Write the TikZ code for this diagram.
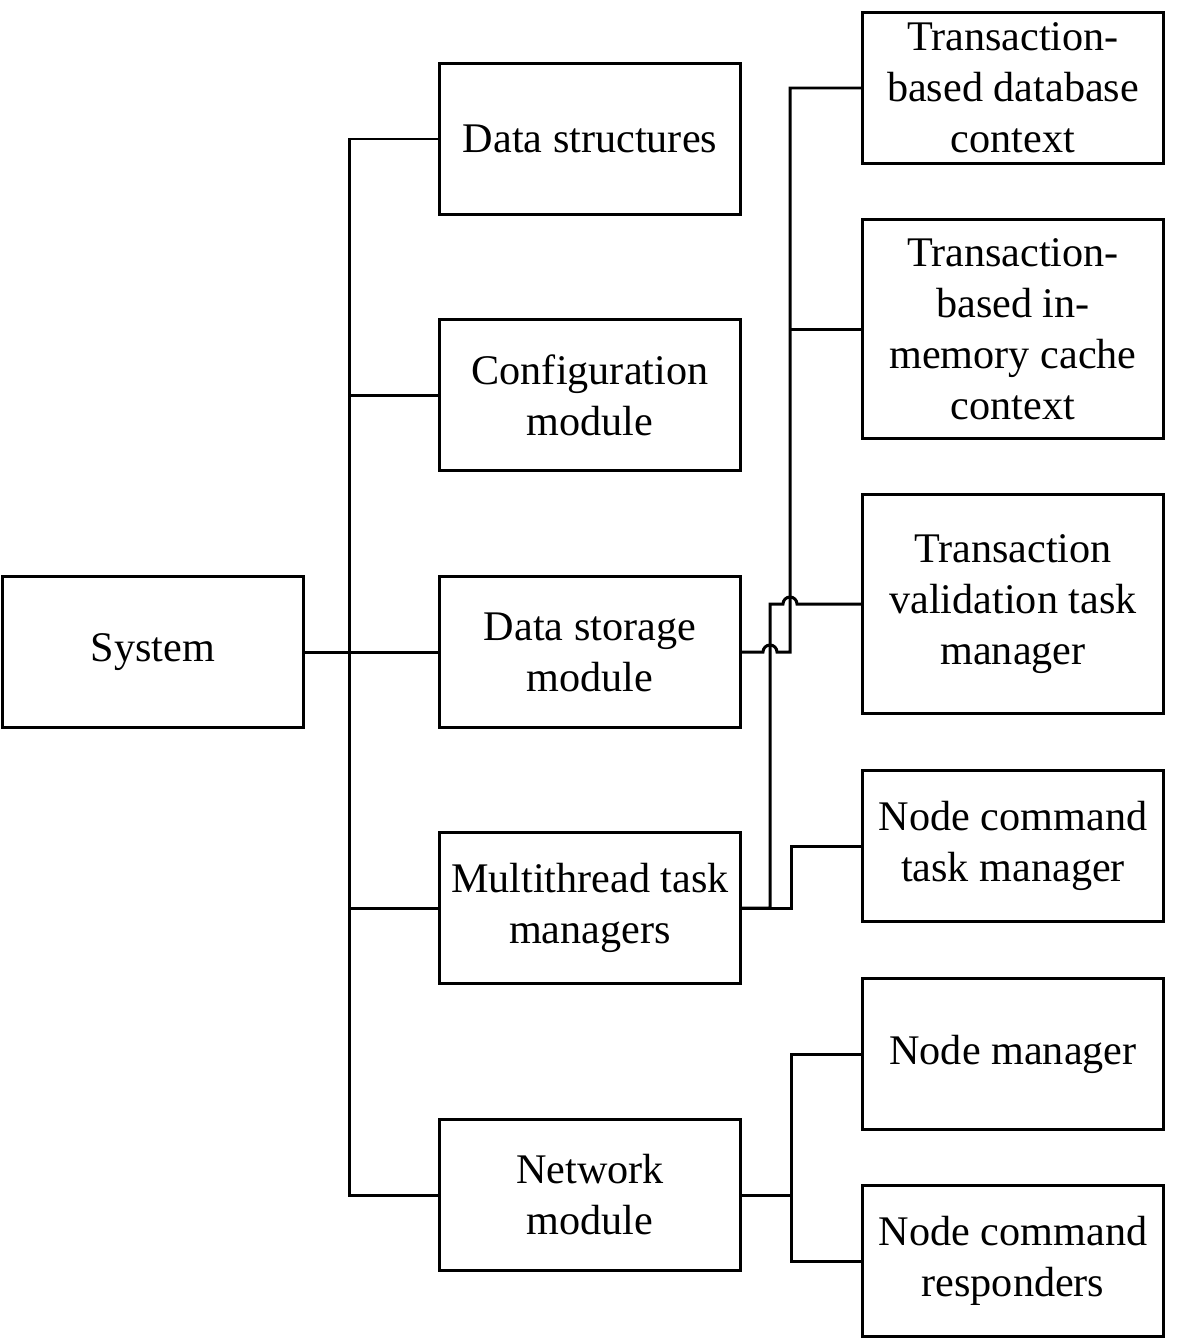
\documentclass[tikz,border=0pt]{standalone}
\usepackage{fontspec}
\setmainfont{Liberation Serif}
\usetikzlibrary{positioning}

\begin{document}
\begin{tikzpicture}[x=0.01cm, y=-0.01cm,
    box/.style={draw, line width=0.85pt, align=center, inner sep=0pt,
      minimum width=3.01cm, minimum height=1.5cm,
      font=\fontsize{12}{14.5}\selectfont},
    link/.style={line width=0.85pt}
  ]
    \useasboundingbox (0,0) rectangle (1181,1339);

    % left and middle column
    \node[box] (sys) at (153,652) {System};
    \node[box] (dstruct) at (590,139) {Data structures};
    \node[box] (config) at (590,395) {Configuration\\module};
    \node[box] (dstore) at (590,652) {Data storage\\module};
    \node[box] (multi) at (590,908) {Multithread task\\managers};
    \node[box] (net) at (590,1195) {Network\\module};

    % right column
    \node[box] (tdb) at (1013,88) {Transaction-\\based database\\context};
    \node[box, minimum height=2.18cm] (tcache) at (1013,329)
      {Transaction-\\based in-\\memory cache\\context};
    \node[box, minimum height=2.18cm] (tval) at (1013,604)
      {Transaction\\validation task\\manager};
    \node[box] (ncmd) at (1013,846) {Node command\\task manager};
    \node[box] (nman) at (1013,1054) {Node manager};
    \node[box] (nresp) at (1013,1261) {Node command\\responders};

    % trunk from the system
    \draw[link] (sys) -- (dstore);
    \draw[link] (dstruct.west) -- ++(-88,0) |- (net.west);
    \draw[link] (config.west) -- ++(-88,0);
    \draw[link] (multi.west) -- ++(-88,0);

    % data storage branch
    \coordinate (storejoint) at (790,652);
    \draw[link] (dstore.east) -- (763,652)
      arc[start angle=180, end angle=0, radius=0.07cm] -- (storejoint) |- (tdb.west);
    \draw[link] (tcache.west) -- (tcache.west -| storejoint);

    % multithread branch
    \coordinate (multijoint) at (770,604);
    \draw[link] (multi.east) -| (multijoint) -- (783,604)
      arc[start angle=180, end angle=0, radius=0.07cm] -- (tval.west);
    \draw[link] (multi.east) -- ++(49,0) |- (ncmd.west);

    % network branch
    \draw[link] (net.east) -- ++(49,0) |- (nman.west);
    \draw[link] (net.east) -- ++(49,0) |- (nresp.west);
\end{tikzpicture}
\end{document}
